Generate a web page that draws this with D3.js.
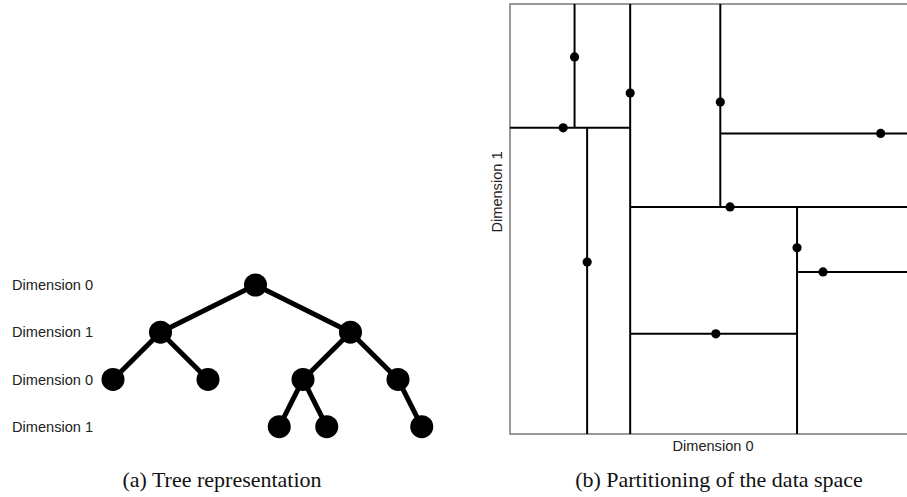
<!DOCTYPE html>
<html>
<head>
<meta charset="utf-8">
<script src="https://cdn.jsdelivr.net/npm/d3@7"></script>
<style>
  html, body { margin: 0; padding: 0; background: #fff; }
  svg { display: block; }
</style>
</head>
<body>
<svg id="chart" width="907" height="497"></svg>
<script>
// ---- data: k-d tree nodes (point coordinates in data units 0..100) ----
const nodeIds   = [0, 1, 2, 3, 4, 5, 6, 7, 8, 9];
const parentIds = [null, 0, 0, 1, 1, 2, 2, 5, 5, 6];
const sides     = [null, "L", "R", "L", "R", "L", "R", "L", "R", "R"];
const splitDims = [0, 1, 1, 0, 0, 0, 0, 1, 1, 1];
const pointX    = [29.6, 13.1, 54.2, 19.0, 15.9, 70.7, 51.8, 50.7, 77.1, 91.3];
const pointY    = [79.3, 71.2, 52.8, 40.0, 87.7, 43.3, 77.2, 23.3, 37.7, 69.9];
const levelLabels = ["Dimension 0", "Dimension 1", "Dimension 0", "Dimension 1"];
const axisLabels  = ["Dimension 0", "Dimension 1"];
const captions    = ["(a) Tree representation", "(b) Partitioning of the data space"];
const dataDomain  = [0, 100];

const svg = d3.select("#chart");

// ---- build hierarchy ----
const table = nodeIds.map((id, i) => ({
  id: String(id),
  parentId: parentIds[i] === null ? null : String(parentIds[i]),
  side: sides[i], dim: splitDims[i], x: pointX[i], y: pointY[i]
}));
const root = d3.stratify().id(d => d.id).parentId(d => d.parentId)(table);

// slot position in [0,1] from binary path
root.each(n => {
  if (!n.parent) { n.slot = 0.5; return; }
  const off = Math.pow(0.5, n.depth + 1);
  n.slot = n.parent.slot + (n.data.side === "L" ? -off : off);
});
// bounds for partition
root.each(n => {
  if (!n.parent) { n.bounds = { x0: dataDomain[0], x1: dataDomain[1], y0: dataDomain[0], y1: dataDomain[1] }; return; }
  const b = Object.assign({}, n.parent.bounds);
  const p = n.parent.data;
  if (p.dim === 0) { if (n.data.side === "L") b.x1 = p.x; else b.x0 = p.x; }
  else { if (n.data.side === "L") b.y1 = p.y; else b.y0 = p.y; }
  n.bounds = b;
});

// ---- (a) tree panel ----
const tx = d3.scaleLinear().domain([0, 1]).range([65.5, 445.5]);
const ty = d3.scaleLinear().domain([0, 3]).range([285, 426.7]);

const gT = svg.append("g");
gT.selectAll("text.lvl").data(levelLabels).join("text")
  .attr("class", "lvl")
  .attr("x", 12).attr("y", (d, i) => ty(i))
  .attr("dy", "0.36em")
  .attr("font-family", "Liberation Sans, Arial, sans-serif")
  .attr("font-size", 14.6).attr("fill", "#222")
  .text(d => d);

gT.selectAll("line.edge").data(root.links()).join("line")
  .attr("class", "edge")
  .attr("x1", d => tx(d.source.slot)).attr("y1", d => ty(d.source.depth))
  .attr("x2", d => tx(d.target.slot)).attr("y2", d => ty(d.target.depth))
  .attr("stroke", "#000").attr("stroke-width", 5);

gT.selectAll("circle.node").data(root.descendants()).join("circle")
  .attr("class", "node")
  .attr("cx", d => tx(d.slot)).attr("cy", d => ty(d.depth))
  .attr("r", 11.5).attr("fill", "#000");

// ---- (b) partition panel ----
const px = d3.scaleLinear().domain(dataDomain).range([510, 916]);
const py = d3.scaleLinear().domain(dataDomain).range([434, 4]);

const gP = svg.append("g");
gP.append("rect")
  .attr("x", px(dataDomain[0])).attr("y", py(dataDomain[1]))
  .attr("width", px(dataDomain[1]) - px(dataDomain[0]))
  .attr("height", py(dataDomain[0]) - py(dataDomain[1]))
  .attr("fill", "none").attr("stroke", "#999").attr("stroke-width", 2);

gP.selectAll("line.split").data(root.descendants()).join("line")
  .attr("class", "split")
  .attr("x1", d => d.data.dim === 0 ? px(d.data.x) : px(d.bounds.x0))
  .attr("x2", d => d.data.dim === 0 ? px(d.data.x) : px(d.bounds.x1))
  .attr("y1", d => d.data.dim === 0 ? py(d.bounds.y0) : py(d.data.y))
  .attr("y2", d => d.data.dim === 0 ? py(d.bounds.y1) : py(d.data.y))
  .attr("stroke", "#000").attr("stroke-width", 2);

gP.selectAll("circle.pt").data(root.descendants()).join("circle")
  .attr("class", "pt")
  .attr("cx", d => px(d.data.x)).attr("cy", d => py(d.data.y))
  .attr("r", 4.6).attr("fill", "#000");

gP.append("text")
  .attr("x", 713).attr("y", 451)
  .attr("text-anchor", "middle")
  .attr("font-family", "Liberation Sans, Arial, sans-serif")
  .attr("font-size", 14.6).attr("fill", "#222")
  .text(axisLabels[0]);

gP.append("text")
  .attr("transform", "translate(502,192) rotate(-90)")
  .attr("text-anchor", "middle")
  .attr("font-family", "Liberation Sans, Arial, sans-serif")
  .attr("font-size", 14.6).attr("fill", "#222")
  .text(axisLabels[1]);

// ---- captions ----
svg.selectAll("text.cap").data(captions).join("text")
  .attr("class", "cap")
  .attr("x", (d, i) => i === 0 ? 222 : 719)
  .attr("y", 487)
  .attr("text-anchor", "middle")
  .attr("font-family", "Liberation Serif, Times New Roman, serif")
  .attr("font-size", 22).attr("fill", "#111")
  .text(d => d);
</script>
</body>
</html>
